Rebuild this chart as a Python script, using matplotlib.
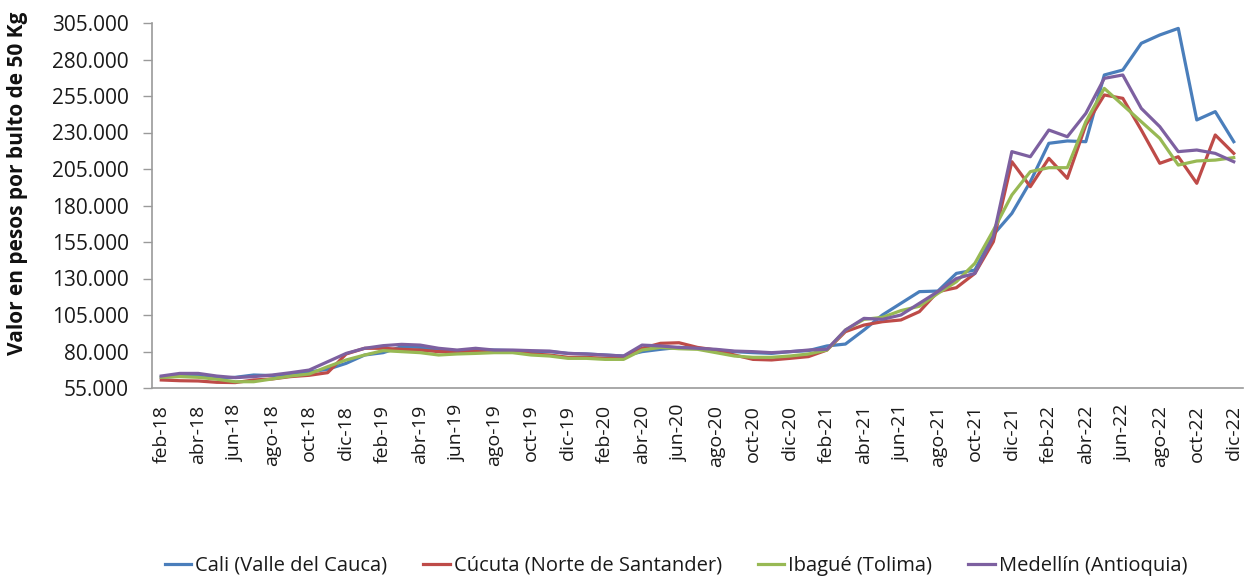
import numpy as np
import matplotlib
matplotlib.use('Agg')
from matplotlib import pyplot as plt
from matplotlib.ticker import FuncFormatter


# meses feb-18 ... dic-22
meses = ['ene', 'feb', 'mar', 'abr', 'may', 'jun', 'jul', 'ago', 'sep', 'oct', 'nov', 'dic']
periodos = [f"{m}-{a}" for a in range(18, 23) for m in meses][1:]

# valores en miles de pesos por bulto de 50 Kg
cali = [62.3, 63.2, 63.2, 61.6, 62.3, 63.9, 63.5, 64.6, 66.0, 67.8,
        71.9, 77.6, 79.2, 83.3, 82.8, 80.6, 79.2, 81.0, 81.0, 80.6,
        79.9, 79.9, 78.7, 78.3, 77.6, 76.9, 79.9, 81.5, 82.8, 82.2,
        81.0, 79.9, 79.2, 78.7, 79.9, 80.6, 83.8, 85.1, 94.7, 105.0,
        113.0, 121.0, 121.4, 133.5, 135.8, 160.0, 174.6, 196.3, 222.6, 224.2,
        223.7, 269.4, 272.8, 291.1, 296.8, 301.3, 238.6, 244.3, 223.7]
cucuta = [60.5, 60.0, 59.8, 58.9, 58.7, 60.5, 61.2, 62.8, 63.7, 65.5,
          78.3, 82.2, 82.2, 81.5, 81.0, 79.9, 79.9, 79.9, 80.3, 79.9,
          78.3, 77.6, 76.0, 76.0, 75.3, 75.8, 82.2, 85.6, 86.0, 82.8,
          81.0, 77.6, 74.6, 74.2, 75.3, 76.5, 81.0, 93.6, 98.1, 100.4,
          101.6, 107.3, 121.0, 123.7, 133.5, 155.2, 210.0, 192.9, 212.3, 198.6,
          235.1, 255.7, 253.4, 231.7, 208.9, 213.4, 195.2, 228.3, 215.7]
ibague = [62.3, 62.8, 62.3, 61.0, 59.3, 59.3, 61.2, 63.2, 64.6, 69.6,
          74.2, 77.6, 80.6, 79.9, 79.2, 77.6, 78.3, 78.7, 79.2, 79.2,
          77.6, 76.9, 75.3, 75.3, 74.6, 74.6, 81.0, 82.8, 81.9, 81.5,
          79.2, 76.9, 76.0, 76.0, 76.9, 78.3, 81.0, 94.7, 102.0, 103.4,
          108.0, 111.0, 119.8, 127.8, 140.4, 163.0, 187.2, 203.2, 205.9, 205.9,
          237.4, 260.2, 248.8, 237.4, 226.0, 207.7, 210.5, 211.1, 212.8]
medellin = [63.2, 65.0, 65.0, 63.2, 62.1, 62.8, 63.9, 65.5, 67.3, 73.0,
            78.7, 82.2, 84.0, 84.9, 84.4, 82.2, 81.0, 82.2, 81.0, 81.0,
            80.6, 80.3, 78.7, 78.3, 77.6, 76.9, 84.4, 83.8, 82.8, 82.2,
            81.5, 80.3, 79.9, 79.2, 79.9, 81.0, 81.5, 94.7, 102.7, 102.0,
            105.0, 113.0, 121.0, 130.0, 133.5, 158.6, 216.9, 213.4, 231.7, 227.1,
            243.1, 267.1, 269.4, 246.5, 234.0, 216.9, 218.0, 215.7, 210.0]

series = [cali, cucuta, ibague, medellin]
nombres = ['Cali (Valle del Cauca)', 'Cúcuta (Norte de Santander)',
           'Ibagué (Tolima)', 'Medellín (Antioquia)']
colores = ['#4A7EBB', '#BE4B48', '#98B954', '#7D60A0']

yticks = np.arange(55000, 305001, 25000)

plt.rcParams['font.family'] = ['Open Sans', 'DejaVu Sans']

fig = plt.figure(figsize=(12.47, 5.77), dpi=100)
ax = fig.add_axes([152/1247, 1 - 388/577, (1243 - 152)/1247, (388 - 23)/577])

x = np.arange(len(periodos))
for vals, nombre, c in zip(series, nombres, colores):
  ax.plot(x, np.array(vals)*1000, color=c, lw=2.3, label=nombre, solid_joinstyle='round')

ax.set_xlim(-0.5, len(periodos) - 0.5)
ax.set_ylim(55000, 305000)
ax.set_yticks(yticks)
ax.yaxis.set_major_formatter(FuncFormatter(lambda v, p: f"{v:,.0f}".replace(',', '.')))
ax.set_xticks(x[::2])
ax.set_xticklabels(periodos[::2], rotation=90)

for s in ['top', 'right']:
  ax.spines[s].set_visible(False)
for s in ['left', 'bottom']:
  ax.spines[s].set_color('#9A9A9A')
  ax.spines[s].set_linewidth(1.2)
ax.tick_params(axis='y', length=6.5, width=1, color='#9A9A9A', pad=10, labelsize=15, labelcolor='#1A1A1A')
ax.tick_params(axis='x', length=0, pad=12, labelsize=14, labelcolor='#1A1A1A')

fig.text(18/1247, 1 - 183/577, 'Valor en pesos por bulto de 50 Kg', rotation=90,
         ha='center', va='center', fontsize=15, fontweight='bold', color='#111111')

fig.legend(loc='center', bbox_to_anchor=(676/1247, 1 - 566/577), ncol=4, frameon=False,
           fontsize=14.5, handlelength=1.3, handletextpad=0.2, columnspacing=1.8,
           labelcolor='#1A1A1A')

fig.savefig('out.png', dpi=100)
